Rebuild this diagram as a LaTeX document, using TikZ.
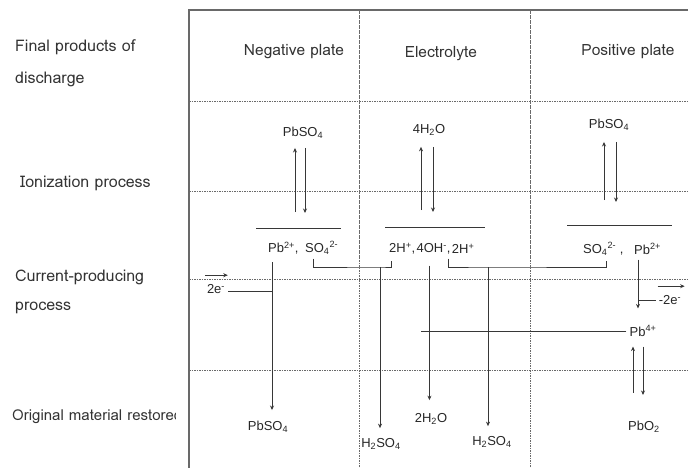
\documentclass[tikz,border=0pt]{standalone}
\usepackage{fontspec}
\setmainfont{Loma}
\newfontfamily\chemfont{Liberation Sans}
\usetikzlibrary{arrows.meta}
\definecolor{GridClr}{RGB}{105,105,105}
\definecolor{LineClr}{RGB}{55,55,55}

\begin{document}
\begin{tikzpicture}[x=1pt,y=-1pt,
  lbl/.style={anchor=west,inner sep=0pt,font=\fontsize{16}{18}\selectfont,text=black!80},
  hdr/.style={font=\fontsize{15.5}{18}\selectfont,text=black!80},
  chem/.style={inner sep=1pt,font=\chemfont\fontsize{13}{15}\selectfont,text=black!85},
  grid/.style={GridClr,dash pattern=on 1.6pt off 0.9pt,line width=0.8pt},
  conn/.style={LineClr,line width=0.8pt},
  tip/.style={conn,-{Stealth[length=4.5pt,width=4pt]}}]
\useasboundingbox (0,0) rectangle (688,468);

% frame and grid
\draw[GridClr,line width=1.1pt] (189,468) -- (189,10) -- (688,10);
\foreach \y in {101,191,279,370} \draw[grid] (189,\y) -- (688,\y);
\foreach \x in {359,530} \draw[grid] (\x,10) -- (\x,468);

% row titles
\begin{scope}
\clip (0,0) rectangle (175,468);
\node[lbl] (fin1) at (15,47) {Final products of};
\node[lbl] (fin2) at (15,79) {discharge};
\node[lbl] (ion) at (20,183) {Ionization process};
\node[lbl] (cur1) at (15,277) {Current-producing};
\node[lbl] (cur2) at (15,308) {process};
\node[lbl,font=\fontsize{15}{18}\selectfont] (orig) at (12,417) {Original material restored};
\end{scope}

% column titles
\node[hdr] (neg) at (294,52) {Negative plate};
\node[hdr] (ele) at (441,54) {Electrolyte};
\node[hdr] (pos) at (628,52) {Positive plate};

% ionization
\node[chem] (pbsoA) at (303,133) {PbSO\textsubscript{4}};
\node[chem] (wat) at (429,130) {4H\textsubscript{2}O};
\node[chem] (pbsoB) at (609,125) {PbSO\textsubscript{4}};

\draw[conn] (256,228) coordinate (barA) -- (341,228);
\draw[conn] (385,227) coordinate (barB) -- (485,227);
\draw[conn] (567,225) coordinate (barC) -- (672,225);

\draw[tip,shorten <=16pt,shorten >=8pt] ([xshift=-8pt]pbsoA.south |- barA) -- ([xshift=-8pt]pbsoA.south);
\draw[tip,shorten <=8pt,shorten >=15pt] ([xshift=2pt]pbsoA.south) -- ([xshift=2pt]pbsoA.south |- barA);
\draw[tip,shorten <=17pt,shorten >=10pt] ([xshift=-8pt]wat.south |- barB) -- ([xshift=-8pt]wat.south);
\draw[tip,shorten <=10pt,shorten >=15pt] ([xshift=4pt]wat.south) -- ([xshift=4pt]wat.south |- barB);
\draw[tip,shorten <=25pt,shorten >=10pt] ([xshift=-5pt]pbsoB.south |- barC) -- ([xshift=-5pt]pbsoB.south);
\draw[tip,shorten <=10pt,shorten >=23pt] ([xshift=7pt]pbsoB.south) -- ([xshift=7pt]pbsoB.south |- barC);

% ions
\node[chem,anchor=west] (pbA) at (267,248) {Pb\textsuperscript{2+},};
\node[chem,anchor=west] (soA) at (304,248) {SO\textsubscript{4}\textsuperscript{2-}};
\node[chem,anchor=west] (hA) at (388,249) {2H\textsuperscript{+},};
\node[chem,anchor=west,inner xsep=0pt] (ohA) at (hA.east) {4OH\textsuperscript{-},};
\node[chem,anchor=west] (hB) at (ohA.east) {2H\textsuperscript{+}};
\node[chem,anchor=west] (soB) at (582,249) {SO\textsubscript{4}\textsuperscript{2-}\ ,};
\node[chem,anchor=west] (pbB) at (633,249) {Pb\textsuperscript{2+}};
\node[chem] (pbB4) at (643,331) {Pb\textsuperscript{4+}};

% electrons
\node[chem] (eA) at (216,289) {2e\textsuperscript{-}};
\node[chem] (eB) at (670,300) {-2e\textsuperscript{-}};
\draw[tip] ([xshift=-1pt,yshift=8pt]eA.north west) -- ++(23,0);
\draw[tip] ([xshift=0pt,yshift=8pt]eB.north west) -- ++(27,0);

% products
\node[chem] (pbsoC) at (268,427) {PbSO\textsubscript{4}};
\node[chem] (hsoA) at (381,444) {H\textsubscript{2}SO\textsubscript{4}};
\node[chem] (watB) at (431,419) {2H\textsubscript{2}O};
\node[chem] (hsoB) at (492,442) {H\textsubscript{2}SO\textsubscript{4}};
\node[chem] (pbo) at (644,427) {PbO\textsubscript{2}};

\coordinate (jA) at (380,267);
\coordinate (jB) at (488,267);
\coordinate (ohX) at (421,331);

% current-producing paths
\draw[tip,shorten <=7pt,shorten >=10pt] ([xshift=5pt]pbA.south west) -- ([xshift=5pt]pbA.south west |- pbsoC.north);
\draw[conn,shorten <=2pt] ([yshift=3pt]eA.south east) -- ([xshift=5pt,yshift=3pt]pbA.south west |- eA.south east);
\draw[conn] ([xshift=9pt,yshift=-3pt]soA.south west) |- (jA) -| ([xshift=3pt,yshift=-5pt]hA.south west);
\draw[tip,shorten >=9pt] (jA) -- (jA |- hsoA.north);
\draw[tip,shorten <=10pt,shorten >=12pt] ([xshift=13pt]ohA.south west) -- ([xshift=13pt]ohA.south west |- watB.north);
\draw[conn] ([xshift=-2pt,yshift=-3pt]ohA.south east) |- (jB) -| ([xshift=24pt,yshift=-4pt]soB.south west);
\draw[tip,shorten >=9pt] (jB) -- (jB |- hsoB.north);
\draw[tip,shorten <=4pt,shorten >=16pt] ([xshift=5pt]pbB.south west) -- ([xshift=5pt]pbB.south west |- pbB4.north);
\draw[conn,shorten >=2pt] ([xshift=5pt]pbB.south west |- eB.west) -- (eB.west);
\draw[conn,shorten <=2pt] (pbB4.west) -- (ohX);
\draw[tip,shorten <=27pt,shorten >=9pt] ([xshift=-11pt]pbo.north) -- ([xshift=-11pt]pbo.north |- pbB4.south);
\draw[tip,shorten <=9pt,shorten >=25pt] ([xshift=-1pt]pbo.north |- pbB4.south) -- ([xshift=-1pt]pbo.north);
\end{tikzpicture}
\end{document}
